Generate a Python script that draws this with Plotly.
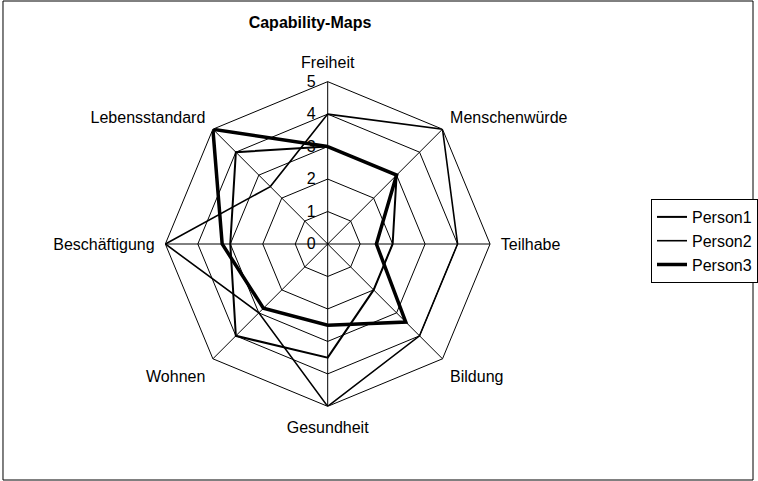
import plotly.graph_objects as go

# =========================
# DATEN
# =========================
kategorien = ["Freiheit", "Menschenwürde", "Teilhabe", "Bildung",
              "Gesundheit", "Wohnen", "Beschäftigung", "Lebensstandard"]

person1 = [3, 3, 2, 2, 3.5, 4, 3, 4]
person2 = [4, 5, 4, 4, 5, 3, 5, 2.5]
person3 = [3, 3, 1.5, 3.4, 2.5, 2.8, 3.25, 5]

personen = ["Person1", "Person2", "Person3"]
breiten = [2, 1.6, 3.5]

radial_ticks = [0, 1, 2, 3, 4, 5]

# =========================
# FIGUR
# =========================
fig = go.Figure()

for name, werte, w in zip(personen, [person1, person2, person3], breiten):
    fig.add_trace(go.Scatterpolar(
        r=werte + werte[:1],
        theta=kategorien + kategorien[:1],
        mode="lines",
        name=name,
        line=dict(color="black", width=w),
    ))

unsichtbar = "rgba(0,0,0,0)"

fig.update_layout(
    width=758,
    height=481,
    margin=dict(l=0, r=0, t=0, b=0),
    paper_bgcolor="white",
    font=dict(family="Liberation Sans, Arial", size=16, color="black"),
    title=dict(
        text="<b>Capability-Maps</b>",
        x=310 / 758, xanchor="center",
        y=1 - 22 / 481, yanchor="middle",
        font=dict(size=16),
    ),
    polar=dict(
        domain=dict(x=[166 / 758, 492 / 758], y=[74 / 481, 400 / 481]),
        bgcolor="white",
        gridshape="linear",
        angularaxis=dict(
            direction="clockwise",
            rotation=90,
            showline=True,
            linecolor="black",
            linewidth=1,
            gridcolor="black",
            gridwidth=1,
            ticks="outside",
            ticklen=7,
            tickcolor=unsichtbar,
            tickfont=dict(size=16),
        ),
        radialaxis=dict(
            range=[0, 5],
            angle=90,
            tickangle=90,
            tickvals=radial_ticks,
            ticktext=[str(t) for t in radial_ticks],
            showline=False,
            gridcolor="black",
            gridwidth=1,
            ticks="outside",
            ticklen=6,
            tickcolor=unsichtbar,
            side="counterclockwise",
            tickfont=dict(size=16),
        ),
    ),
    showlegend=True,
    legend=dict(
        x=654 / 758, xanchor="left",
        y=1 - 241 / 481, yanchor="middle",
        bordercolor="black",
        borderwidth=1,
        bgcolor="white",
        font=dict(size=16),
        tracegroupgap=0,
        itemwidth=30,
    ),
    shapes=[dict(
        type="rect", xref="paper", yref="paper",
        x0=3 / 758, x1=756 / 758, y0=1 / 481, y1=480 / 481,
        line=dict(color="black", width=1),
    )],
)

# Seitenrand des Browsers entfernen
fig.write_html(
    "out.html",
    config={"displayModeBar": False},
    post_script="document.body.style.margin='0';document.body.style.overflow='hidden';",
)
